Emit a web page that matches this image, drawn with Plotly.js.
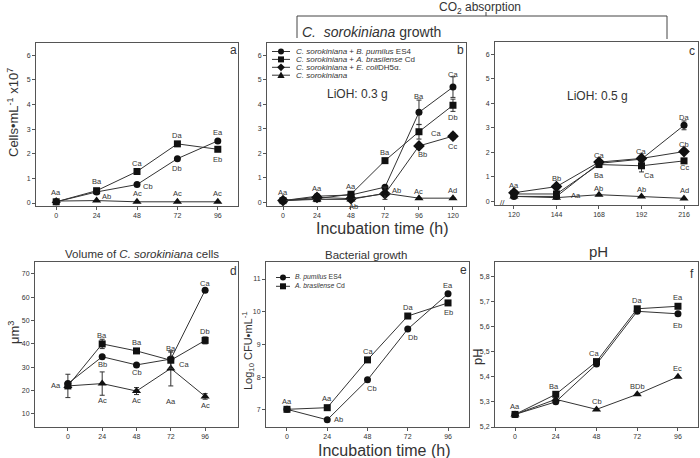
<!DOCTYPE html>
<html><head><meta charset="utf-8">
<script src="https://cdn.plot.ly/plotly-3.0.1.min.js"></script>
<style>html,body{margin:0;padding:0;background:#fff}#chart{width:700px;height:458px}</style>
</head><body><div id="chart"></div>
<script>
// ---------- DATA ----------
const hoursA = [0, 24, 48, 72, 96];
const aPumilus = [0.05, 0.45, 0.75, 1.8, 2.52];
const aBrasilense = [0.05, 0.5, 1.28, 2.4, 2.18];
const aControl = [0.08, 0.1, 0.05, 0.05, 0.05];

const hoursB = [0, 24, 48, 72, 96, 120];
const bPumilus = [0.07, 0.25, 0.3, 0.62, 3.67, 4.7];
const bPumilusErr = [0, 0, 0, 0, 0.5, 0.42];
const bBrasilense = [0.07, 0.15, 0.33, 1.7, 2.88, 3.96];
const bBrasilenseErr = [0, 0, 0, 0, 0.3, 0.25];
const bEcoli = [0.07, 0.2, 0.15, 0.35, 2.3, 2.7];
const bEcoliErr = [0, 0, 0, 0.05, 0.1, 0.12];
const bControl = [0.07, 0.12, 0.12, 0.37, 0.17, 0.17];
const bControlErr = [0, 0, 0, 0.25, 0, 0];

const hoursC = [120, 144, 168, 192, 216];
const cPumilus = [0.2, 0.2, 1.55, 1.72, 3.1];
const cPumilusErr = [0, 0, 0, 0, 0.18];
const cBrasilense = [0.3, 0.3, 1.5, 1.45, 1.65];
const cBrasilenseErr = [0, 0, 0.1, 0.25, 0.1];
const cEcoli = [0.35, 0.6, 1.6, 1.75, 2.03];
const cEcoliErr = [0, 0, 0.1, 0.05, 0.08];
const cControl = [0.2, 0.15, 0.27, 0.2, 0.12];

const hoursD = [0, 24, 48, 72, 96];
const dPumilus = [23, 34.5, 31, 33.5, 63];
const dBrasilense = [22, 40, 37, 33, 41.5];
const dBrasilenseErr = [0, 2, 0, 3.5, 1.5];
const dControl = [22, 23, 19.8, 29.5, 17.5];
const dControlErr = [5, 5, 1.5, 7.5, 1.2];

const hoursE = [0, 24, 48, 72, 96];
const ePumilus = [7.02, 6.7, 7.92, 9.47, 10.55];
const eBrasilense = [7.02, 7.07, 8.53, 9.87, 10.27];

const hoursF = [0, 24, 48, 72, 96];
const fPumilus = [5.25, 5.30, 5.45, 5.66, 5.65];
const fBrasilense = [5.25, 5.33, 5.46, 5.67, 5.68];
const fControl = [5.25, 5.31, 5.27, 5.33, 5.40];

const seriesNames = ['<i>C. sorokiniana</i> + <i>B. pumilus</i> ES4',
  '<i>C. sorokiniana</i> + <i>A. brasilense</i> Cd',
  '<i>C. sorokiniana</i> + <i>E. coli</i>DH5α.',
  '<i>C. sorokiniana</i>'];
const seriesKeys = ['p', 'b', 'e', 'c'];
const bacteriaNames = ['<i>B. pumilus</i> ES4', '<i>A. brasilense</i> Cd'];
const bacteriaKeys = ['p', 'b'];

// letter labels: [text, series, index]
const labelsA = [['Aa','b',0],['Ba','b',1],['Ab','c',1],['Ac','c',2],['Ca','b',2],['Cb','p',2],
  ['Da','b',3],['Db','p',3],['Ac','c',3],['Ea','p',4],['Eb','b',4],['Ac','c',4]];
const labelsB = [['Aa','p',0],['Aa','p',1],['Aa','b',2],['Ab','c',2],['Ba','b',3],['Ab','c',3],
  ['Ba','p',4],['Ca','b',4],['Bb','e',4],['Ac','c',4],['Ca','p',5],['Db','b',5],['Cc','e',5],['Ad','c',5]];
const labelsC = [['Aa','e',0],['Bb','e',1],['Aa','c',1],['Ca','e',2],['Ba','b',2],['Ab','c',2],
  ['Ca','e',3],['Ca','b',3],['Ab','c',3],['Da','p',4],['Cb','e',4],['Cc','b',4],['Ad','c',4]];
const labelsD = [['Aa','b',0],['Ba','b',1],['Bb','p',1],['Ac','c',1],['Ba','b',2],['Cb','p',2],['Ac','c',2],
  ['Ba','b',3],['Ca','b',3],['Aa','c',3],['Ca','p',4],['Db','b',4],['Ac','c',4]];
const labelsE = [['Aa','p',0],['Aa','b',1],['Ab','p',1],['Ca','b',2],['Cb','p',2],['Da','b',3],['Db','p',3],
  ['Ea','p',4],['Eb','b',4]];
const labelsF = [['Aa','b',0],['Ba','b',1],['Ca','b',2],['Cb','c',2],['Da','b',3],['BDb','c',3],
  ['Ea','b',4],['Eb','p',4],['Ec','c',4]];

// ---------- STYLE ----------
const offA = [[0,9],[0,9],[10,4],[0,8],[0,8],[11,-2],[0,8],[0,-10],[0,8],[0,8],[0,-10],[0,8]];
const offB = [[0,8],[0,8],[0,8],[3,-7],[0,8],[12,3],[0,16],[17,-2],[4,-9],[0,7],[0,13],[0,-12],[0,-10],[0,8]];
const offC = [[0,7],[0,8],[20,2],[0,7],[0,-11],[0,6],[0,7],[8,-10],[0,7],[0,8],[0,7],[0,-7],[0,8]];
const offD = [[-12,0],[0,8],[0,-8],[0,-17],[0,8],[0,-8],[0,-9],[0,12],[13,-4],[0,-33],[0,7],[0,9],[0,-9]];
const offE = [[0,8],[0,9],[11,0],[0,8],[4,-9],[0,9],[5,-8],[0,8],[0,-10]];
const offF = [[0,8],[-2,8],[-3,8],[0,8],[0,8],[0,8],[0,9],[0,-12],[0,8]];

const FONT = 'Liberation Sans, Arial, sans-serif';
const TXT = '#333';
const LINE = '#333';
const W = 700, H = 458;
const px = x => x / W, py = y => 1 - y / H;

const mk = {
  p: {symbol: 'circle', size: 7},
  b: {symbol: 'square', size: 7},
  e: {symbol: 'diamond', size: 9},
  c: {symbol: 'triangle-up', size: 8}
};

function tr(x, y, key, xa, ya, err) {
  const t = {
    x: x, y: y, xaxis: xa, yaxis: ya, type: 'scatter', mode: 'lines+markers',
    line: {color: LINE, width: 1},
    marker: Object.assign({color: '#111'}, mk[key]),
    showlegend: false, hoverinfo: 'skip'
  };
  if (err) t.error_y = {type: 'data', array: err, visible: true, color: '#333', thickness: 1, width: 2.5};
  return t;
}

const data = [
  tr(hoursA, aControl, 'c', 'x', 'y'),
  tr(hoursA, aPumilus, 'p', 'x', 'y'),
  tr(hoursA, aBrasilense, 'b', 'x', 'y'),

  tr(hoursB, bPumilus, 'p', 'x2', 'y2', bPumilusErr),
  tr(hoursB, bBrasilense, 'b', 'x2', 'y2', bBrasilenseErr),
  tr(hoursB, bEcoli, 'e', 'x2', 'y2', bEcoliErr),
  tr(hoursB, bControl, 'c', 'x2', 'y2', bControlErr),

  tr(hoursC, cControl, 'c', 'x3', 'y3'),
  tr(hoursC, cBrasilense, 'b', 'x3', 'y3', cBrasilenseErr),
  tr(hoursC, cPumilus, 'p', 'x3', 'y3', cPumilusErr),
  tr(hoursC, cEcoli, 'e', 'x3', 'y3', cEcoliErr),

  tr(hoursD, dControl, 'c', 'x4', 'y4', dControlErr),
  tr(hoursD, dPumilus, 'p', 'x4', 'y4'),
  tr(hoursD, dBrasilense, 'b', 'x4', 'y4', dBrasilenseErr),

  tr(hoursE, ePumilus, 'p', 'x5', 'y5'),
  tr(hoursE, eBrasilense, 'b', 'x5', 'y5'),

  tr(hoursF, fControl, 'c', 'x6', 'y6'),
  tr(hoursF, fPumilus, 'p', 'x6', 'y6'),
  tr(hoursF, fBrasilense, 'b', 'x6', 'y6')
];

const seriesMap = {
  x: {x: hoursA, p: aPumilus, b: aBrasilense, c: aControl},
  x2: {x: hoursB, p: bPumilus, b: bBrasilense, e: bEcoli, c: bControl},
  x3: {x: hoursC, p: cPumilus, b: cBrasilense, e: cEcoli, c: cControl},
  x4: {x: hoursD, p: dPumilus, b: dBrasilense, c: dControl},
  x5: {x: hoursE, p: ePumilus, b: eBrasilense},
  x6: {x: hoursF, p: fPumilus, b: fBrasilense, c: fControl}
};

const annotations = [];
function addLabels(xa, ya, labels, offs) {
  const m = seriesMap[xa];
  labels.forEach((l, i) => {
    annotations.push({xref: xa, yref: ya, x: m.x[l[2]], y: m[l[1]][l[2]], text: l[0],
      showarrow: false, xshift: offs[i][0], yshift: offs[i][1],
      font: {family: FONT, size: 7.5, color: TXT}});
  });
}
addLabels('x', 'y', labelsA, offA);
addLabels('x2', 'y2', labelsB, offB);
addLabels('x3', 'y3', labelsC, offC);
addLabels('x4', 'y4', labelsD, offD);
addLabels('x5', 'y5', labelsE, offE);
addLabels('x6', 'y6', labelsF, offF);

function note(text, x, y, size, opts) {
  annotations.push(Object.assign({xref: 'paper', yref: 'paper', x: px(x), y: py(y), text: text,
    showarrow: false, xanchor: 'center', yanchor: 'middle',
    font: {family: FONT, size: size, color: TXT}}, opts || {}));
}

const shapes = [];
const KEYLINE = {color: '#333', width: 1};
const KEYFILL = '#111';
function keySymbol(k, cx, cy, r) {
  if (k === 'p') shapes.push({type: 'circle', xref: 'paper', yref: 'paper',
    x0: px(cx - r), x1: px(cx + r), y0: py(cy + r), y1: py(cy - r), fillcolor: KEYFILL, line: {width: 0}});
  else if (k === 'b') shapes.push({type: 'rect', xref: 'paper', yref: 'paper',
    x0: px(cx - r), x1: px(cx + r), y0: py(cy + r), y1: py(cy - r), fillcolor: KEYFILL, line: {width: 0}});
  else if (k === 'e') shapes.push({type: 'path', xref: 'paper', yref: 'paper', fillcolor: KEYFILL, line: {width: 0},
    path: 'M' + px(cx) + ',' + py(cy - r * 1.3) + ' L' + px(cx + r * 1.3) + ',' + py(cy) + ' L' + px(cx) + ',' +
      py(cy + r * 1.3) + ' L' + px(cx - r * 1.3) + ',' + py(cy) + ' Z'});
  else if (k === 'c') shapes.push({type: 'path', xref: 'paper', yref: 'paper', fillcolor: KEYFILL, line: {width: 0},
    path: 'M' + px(cx) + ',' + py(cy - r * 1.2) + ' L' + px(cx + r * 1.2) + ',' + py(cy + r * 0.9) + ' L' +
      px(cx - r * 1.2) + ',' + py(cy + r * 0.9) + ' Z'});
}
// legend: keys as shapes, names as one multi-line text block
function legendBlock(names, keys, xL0, xL1, xText, yTop, yFirst, dy, base, nameSize, r) {
  keys.forEach((k, i) => {
    const y = yFirst + i * dy;
    shapes.push({type: 'line', xref: 'paper', yref: 'paper', x0: px(xL0), x1: px(xL1), y0: py(y), y1: py(y), line: KEYLINE});
    keySymbol(k, (xL0 + xL1) / 2, y, r);
  });
  const nameLines = names.map(n => '<span style="font-size:' + nameSize + 'px">' + n + '</span>');
  note(nameLines.join('<br>'), xText, yTop, base, {xanchor: 'left', yanchor: 'top', align: 'left'});
}
legendBlock(seriesNames, seriesKeys, 272, 290, 294, 45, 51.5, 7.9, 6.1, 8, 3);
legendBlock(bacteriaNames, bacteriaKeys, 276, 290, 292, 271, 277.5, 8.8, 6.8, 6.8, 3);

// panel letters
note('a', 233, 50, 12); note('b', 460, 50, 12); note('c', 692, 51, 12);
note('d', 233, 271, 12); note('e', 463, 270, 12); note('f', 692, 274, 12);
// header
note('CO<sub>2</sub> absorption', 480, 8, 12);
note('<i>C.  sorokiniana</i> growth', 300, 32, 14, {xanchor: 'left'});
note('LiOH: 0.3 g', 357, 94, 12);
note('LiOH: 0.5 g', 597, 96, 12);
note('//', 503, 202, 8);
// axis titles
note('Cells•mL<sup>-1</sup> x10<sup>7</sup>', 13, 113, 13, {textangle: -90});
note('μm<sup>3</sup>', 14, 333, 13, {textangle: -90});
note('Log<sub>10</sub> CFU•mL<sup>-1</sup>', 248, 350, 11, {textangle: -90});
note('pH', 477, 356, 13, {textangle: -90});
note('Incubation time (h)', 382, 228, 16);
note('Incubation time (h)', 384, 450, 16);
// panel titles
note('Volume of <i>C. sorokiniana</i> cells', 142, 254, 11.5);
note('Bacterial growth', 366, 255, 11.5);
note('pH', 598, 251, 15);

// CO2 absorption bracket
[[297, 16, 667, 16], [297, 16, 297, 38], [667, 16, 667, 39], [486, 12, 486, 16]].forEach(s => {
  shapes.push({type: 'line', xref: 'paper', yref: 'paper', x0: px(s[0]), y0: py(s[1]), x1: px(s[2]), y1: py(s[3]),
    line: {color: '#444', width: 1}});
});

function xax(d, anchor, range, tv) {
  return {domain: [px(d[0]), px(d[1])], anchor: anchor, range: range, tickvals: tv,
    showline: true, mirror: true, linecolor: '#555', linewidth: 1, ticks: 'outside', ticklen: 3,
    tickcolor: '#555', showgrid: false, zeroline: false, fixedrange: true,
    tickfont: {family: FONT, size: 7, color: TXT}};
}
function yax(d, anchor, range, dtick, fmt) {
  const a = {domain: [py(d[1]), py(d[0])], anchor: anchor, range: range, dtick: dtick, tick0: 0,
    showline: true, mirror: true, linecolor: '#555', linewidth: 1, ticks: 'outside', ticklen: 3,
    tickcolor: '#555', showgrid: false, zeroline: false, fixedrange: true,
    tickfont: {family: FONT, size: 7, color: TXT}};
  if (fmt) a.tickformat = fmt;
  return a;
}

const layout = {
  width: W, height: H, margin: {l: 0, r: 0, t: 0, b: 0},
  paper_bgcolor: '#fff', plot_bgcolor: '#fff', separators: ',.', showlegend: false,
  font: {family: FONT, color: TXT},
  xaxis: xax([36, 238], 'y', [-12, 108], hoursA),
  yaxis: yax([43, 206], 'x', [-0.12, 6.49], 1),
  xaxis2: xax([267, 466], 'y2', [-11.3, 129.2], hoursB),
  yaxis2: yax([43, 206], 'x2', [-0.15, 6.5], 1),
  xaxis3: xax([495, 698], 'y3', [109.3, 223.9], hoursC),
  yaxis3: yax([42, 205], 'x3', [-0.15, 6.5], 1),
  xaxis4: xax([35, 238], 'y4', [-23, 119], hoursD),
  yaxis4: yax([262, 427], 'x4', [4.4, 75.1], 10),
  xaxis5: xax([266, 469], 'y5', [-12.5, 108.5], hoursE),
  yaxis5: yax([262, 427], 'x5', [6.48, 11.52], 1),
  xaxis6: xax([495, 698], 'y6', [-11.8, 107.8], hoursF),
  yaxis6: yax([262, 427], 'x6', [5.2, 5.856], 0.1, '.1f'),
  annotations: annotations,
  shapes: shapes
};
Plotly.newPlot('chart', data, layout, {displayModeBar: false, staticPlot: true});
</script></body></html>
